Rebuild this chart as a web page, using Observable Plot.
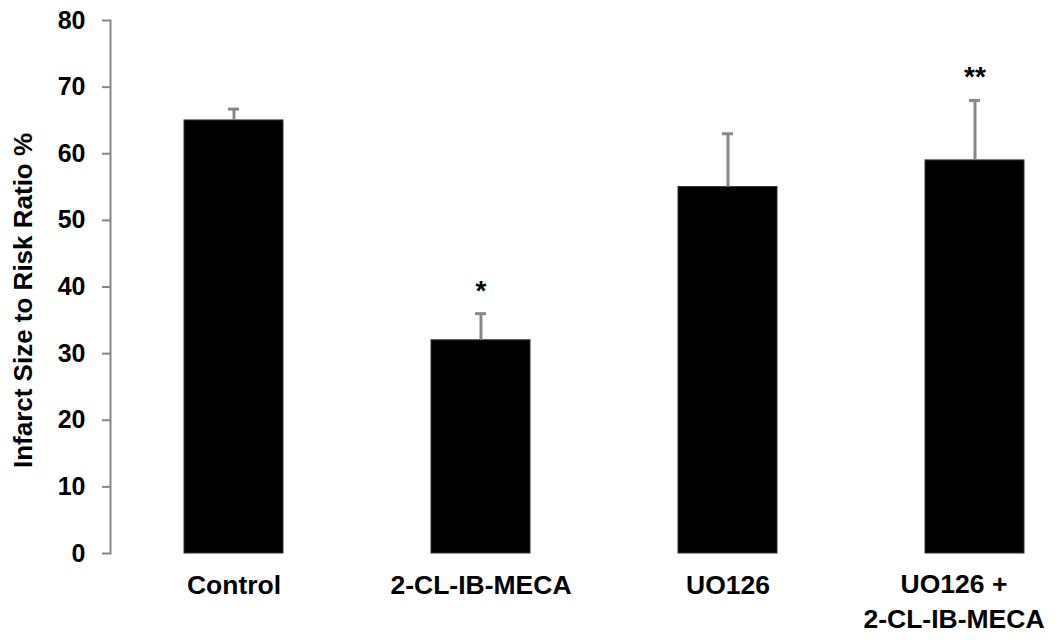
<!DOCTYPE html>
<html>
<head>
<meta charset="utf-8">
<script src="https://cdn.jsdelivr.net/npm/d3@7"></script>
<script src="https://cdn.jsdelivr.net/npm/@observablehq/plot@0.6"></script>
<style>
  html, body { margin: 0; padding: 0; background: #fff; }
  #chart { width: 1056px; height: 642px; overflow: hidden; }
</style>
</head>
<body>
<div id="chart"></div>
<script>
const categories = ["Control", "2-CL-IB-MECA", "UO126", "UO126 + 2-CL-IB-MECA"];
const labels = ["Control", "2-CL-IB-MECA", "UO126", "UO126 +\n2-CL-IB-MECA"];
const means = [65, 32, 55, 59];
const errorTops = [66.7, 36, 63, 68];
const marks = ["", "*", "", "**"];
const yTicks = [0, 10, 20, 30, 40, 50, 60, 70, 80];
const yLabel = "Infarct Size to Risk Ratio %";

const data = categories.map((c, i) => ({
  cat: c, label: labels[i], mean: means[i], err: errorTops[i], mark: marks[i]
}));

const font = "'Liberation Sans', Arial, sans-serif";
const gray = "#878787";
const lastCat = categories[categories.length - 1];

const chart = Plot.plot({
  width: 1056,
  height: 642,
  marginLeft: 110,
  marginTop: 20,
  marginBottom: 89,
  marginRight: 0,
  style: { fontFamily: font, background: "#fff", overflow: "visible" },
  x: { domain: categories, range: [110, 1098], paddingInner: 0.6, paddingOuter: 0.3, axis: null },
  y: { domain: [0, 80], axis: null },
  marks: [
    Plot.barY(data, { x: "cat", y: "mean", fill: "#000", stroke: "#333", strokeWidth: 1 }),
    Plot.ruleX(data, { x: "cat", y1: "mean", y2: "err", stroke: gray, strokeWidth: 3 }),
    Plot.tickY(data, { x: "cat", y: "err", stroke: gray, strokeWidth: 3, insetLeft: 44, insetRight: 44 }),
    Plot.text(data, { x: "cat", y: "err", text: "mark", dy: -23, lineAnchor: "middle", fontSize: 28, fontWeight: "bold", fill: "#000" }),
    Plot.frame({ anchor: "left", stroke: gray, strokeWidth: 2 }),
    Plot.axisY({ ticks: yTicks, tickSize: 8, tickPadding: 17, fontSize: 25, fontWeight: "bold", stroke: gray, strokeWidth: 2, color: "#000", label: null }),
    Plot.text(data.filter(d => d.cat !== lastCat), { x: "cat", y: 0, text: "label", dy: 15, lineAnchor: "top", lineHeight: 1.35, fontSize: 26.5, fontWeight: "bold", fill: "#000" }),
    Plot.text(data.filter(d => d.cat === lastCat), { x: "cat", y: 0, text: "label", dy: 15, dx: -21, lineAnchor: "top", lineHeight: 1.32, fontSize: 26.5, fontWeight: "bold", fill: "#000" }),
    Plot.text([yLabel], { frameAnchor: "left", text: d => d, rotate: -90, dx: -87, dy: 13.5, textAnchor: "middle", lineAnchor: "middle", fontSize: 26, fontWeight: "bold", fill: "#000" })
  ]
});
document.getElementById("chart").appendChild(chart);
</script>
</body>
</html>
